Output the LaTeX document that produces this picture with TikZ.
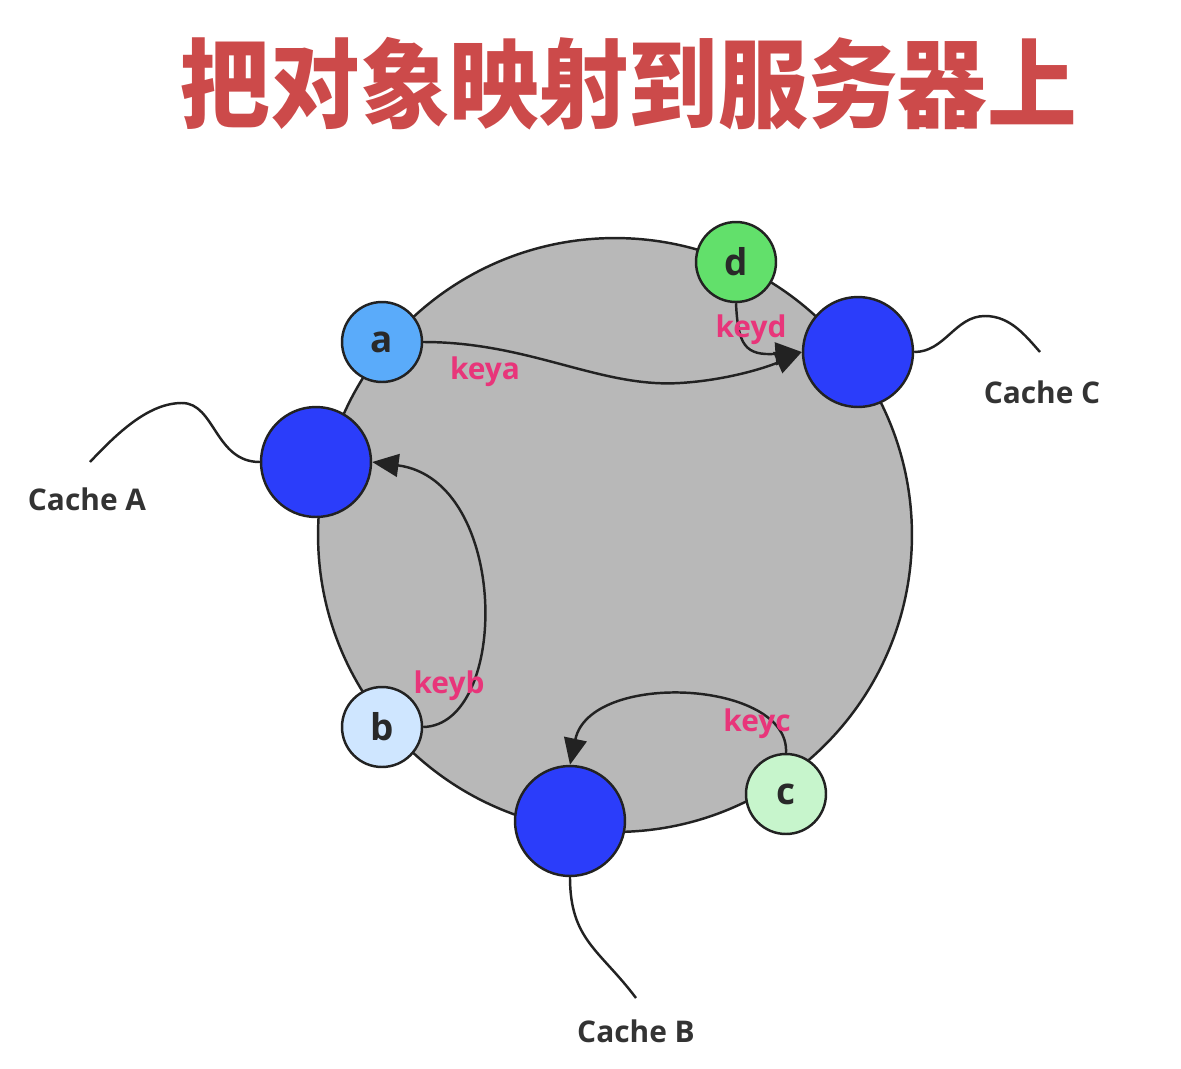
\documentclass[tikz,border=0pt]{standalone}
\usepackage{fontspec}
\setmainfont{Open Sans}
\newfontfamily\cjk{Noto Sans CJK SC}
\usepackage{tikz}
\usetikzlibrary{arrows.meta}
\usetikzlibrary{calc}

\definecolor{ringgray}{HTML}{B8B8B8}
\definecolor{linedark}{HTML}{222222}
\definecolor{cacheblue}{HTML}{2B3DFA}
\definecolor{keypink}{HTML}{E8357A}
\definecolor{titlered}{HTML}{CC4A4A}
\definecolor{txtgray}{HTML}{333333}
\definecolor{colA}{HTML}{5AABFA}
\definecolor{colB}{HTML}{CFE6FF}
\definecolor{colC}{HTML}{C7F5CC}
\definecolor{colD}{HTML}{62E06B}

\tikzset{
  obj/.style={circle,draw=linedark,line width=1.4pt,minimum size=1.6cm,inner sep=0pt,
    font=\fontsize{21}{21}\selectfont\bfseries,text=txtgray!80!black},
  cache/.style={circle,draw=linedark,line width=1.4pt,fill=cacheblue,minimum size=2.2cm,inner sep=0pt},
  keylab/.style={font=\fontsize{17}{17}\selectfont\bfseries,text=keypink,inner sep=1pt},
  cachelab/.style={font=\fontsize{17}{17}\selectfont\bfseries,text=txtgray},
  maparrow/.style={line width=1.4pt,draw=linedark,-{Triangle[length=15pt,width=13pt]}},
  wire/.style={line width=1.4pt,draw=linedark}
}

\begin{document}
\begin{tikzpicture}[x=0.02cm,y=-0.02cm]
      \useasboundingbox (0,0) rectangle (1181,1069);

      % title
      \node[text=titlered,font=\cjk\bfseries\fontsize{51}{51}\selectfont,yscale=1.08] (title) at (629,84) {把对象映射到服务器上};

      % hash ring
      \node[circle,draw=linedark,line width=1.4pt,fill=ringgray,minimum size=11.88cm] (ring) at (615,535) {};

      % servers
      \node[cache] (cacheA) at (316,462) {};
      \node[cache] (cacheC) at (858,352) {};
      \node[cache] (cacheB) at (570,821) {};

      % objects
      \foreach \n/\x/\y/\c in {a/382/342/colA, b/382/727/colB, c/786/794/colC, d/736/262/colD}
        \node[obj,fill=\c] (\n) at (\x,\y) {\n};

      % wires to the server labels
      \coordinate (endA) at (90,462);
      \coordinate (endC) at (1040,352);
      \coordinate (endB) at (636,998);
      \draw[wire] (cacheA.west) .. controls (215,462) and (215,403) .. (182,403)
                  .. controls (150,403) and (120,430) .. (endA);
      \draw[wire] (cacheC.east) .. controls (945,352) and (955,316) .. (985,316)
                  .. controls (1010,316) and (1025,335) .. (endC);
      \draw[wire] (cacheB.south) .. controls (570,940) and (600,950) .. (endB);

      % mapping arrows
      \draw[maparrow] (a.east) .. controls (530,342) and (600,388) .. (680,383)
                  .. controls (730,380) and (770,366) .. (cacheC.west);
      \draw[maparrow] (d.south) .. controls (738,345) and (745,356) .. (cacheC.west);
      \draw[maparrow] (b.east) .. controls (510,725) and (510,480) .. (cacheA.east);
      \draw[maparrow] (c.north) .. controls (790,680) and (590,670) .. (cacheB.north);

      % key labels
      \node[keylab] (keya) at (485,372) {keya};
      \node[keylab] (keyd) at (751,330) {keyd};
      \node[keylab] (keyb) at (449,686) {keyb};
      \node[keylab] (keyc) at (757,724) {keyc};

      % server labels
      \node[cachelab] (labA) at (87,499) {Cache A};
      \node[cachelab] (labC) at (1042,392) {Cache C};
      \node[cachelab] (labB) at (636,1031) {Cache B};

\end{tikzpicture}
\end{document}
